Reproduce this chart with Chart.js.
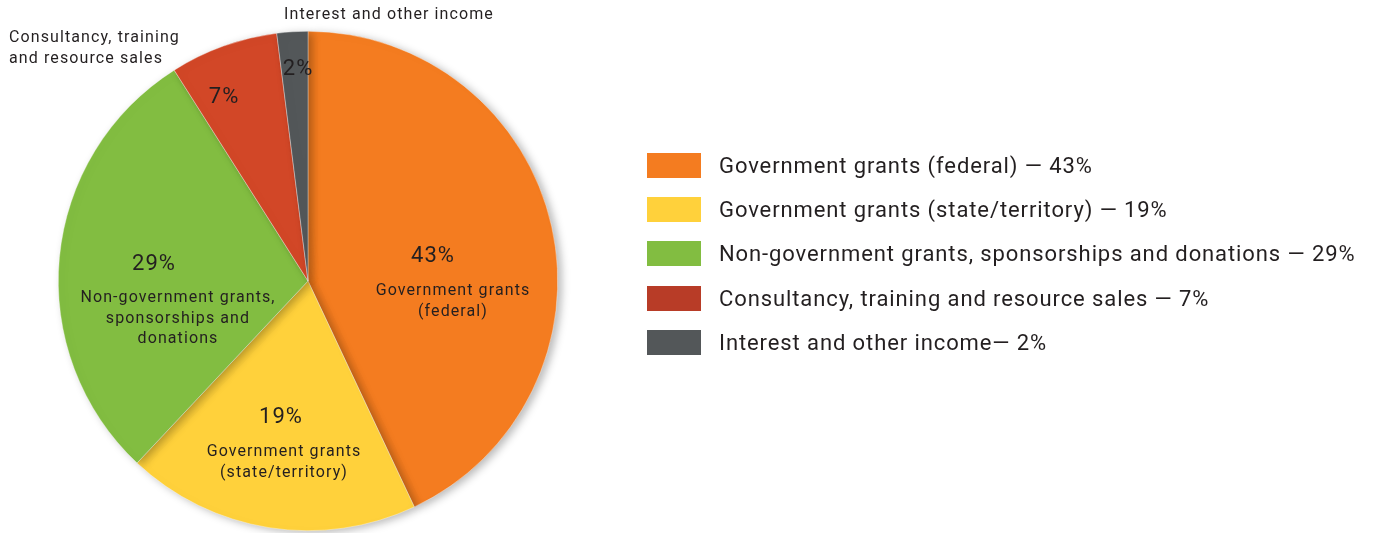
<!DOCTYPE html>
<html>
<head>
<meta charset="utf-8">
<script src="https://cdn.jsdelivr.net/npm/chart.js@4.4.0/dist/chart.umd.min.js"></script>
<style>
    html, body { margin: 0; padding: 0; background: #fff; }
    #wrap { position: relative; width: 1376px; height: 533px; }
    #legend { position: absolute; left: 647px; top: 153px; font-family: Roboto, sans-serif; font-size: 22px; letter-spacing: 0.9px; color: #231f20; }
    .row { height: 44.2px; display: flex; align-items: flex-start; }
    .sw { width: 54px; height: 25px; margin-right: 18px; }
    .tx { line-height: 25px; white-space: nowrap; }
</style>
</head>
<body>
<div id="wrap">
    <canvas id="chart" width="1376" height="533"></canvas>
    <div id="legend"></div>
</div>
<script>
var categories = [
    'Government grants (federal)',
    'Government grants (state/territory)',
    'Non-government grants, sponsorships and donations',
    'Consultancy, training and resource sales',
    'Interest and other income'
];
var values = [43, 19, 29, 7, 2];
var legendLabels = [
    'Government grants (federal) \u2014 43%',
    'Government grants (state/territory) \u2014 19%',
    'Non-government grants, sponsorships and donations \u2014 29%',
    'Consultancy, training and resource sales \u2014 7%',
    'Interest and other income\u2014 2%'
];
var sliceLabels = [
    ['Government grants', '(federal)'],
    ['Government grants', '(state/territory)'],
    ['Non-government grants,', 'sponsorships and', 'donations'],
    [],
    []
];
var outsideLabels = [
    [],
    [],
    [],
    ['Consultancy, training', 'and resource sales'],
    ['Interest and other income']
];

var color = ['#f47c20', '#ffd13b', '#82bd41', '#d24727', '#535759'];
var legendColor = ['#f47c20', '#ffd13b', '#82bd41', '#b83c27', '#535759'];

// label anchors relative to pie centre (percent text, then sub label)
var labelPos = [
    { pct: [125, -25], sub: [145, 10] },
    { pct: [-27, 136], sub: [-24, 171] },
    { pct: [-154, -17], sub: [-130, 17] },
    { pct: [-84, -184] },
    { pct: [-10, -212] }
];
var outsidePos = [null, null, null, [9, 38, 'left'], [284, 15, 'left']];

var shadowPlugin = {
    id: 'shadow',
    beforeDatasetDraw: function (chart) {
        var ctx = chart.ctx;
        ctx.save();
        ctx.shadowColor = 'rgba(0,0,0,0.28)';
        ctx.shadowBlur = 8;
        ctx.shadowOffsetX = 4;
        ctx.shadowOffsetY = 2;
    },
    afterDatasetDraw: function (chart) {
        chart.ctx.restore();
    }
};

var labelPlugin = {
    id: 'sliceLabels',
    afterDatasetsDraw: function (chart) {
        var ctx = chart.ctx;
        var arcs = chart.getDatasetMeta(0).data;
        ctx.save();
        ctx.fillStyle = '#231f20';
        ctx.textBaseline = 'middle';
        arcs.forEach(function (arc, i) {
            var cx = arc.x, cy = arc.y;
            var p = labelPos[i];
            ctx.textAlign = 'center';
            ctx.font = '22px Roboto';
            ctx.letterSpacing = '1px';
            ctx.fillText(values[i] + '%', cx + p.pct[0], cy + p.pct[1]);
            ctx.font = '16px Roboto';
            ctx.letterSpacing = '1.1px';
            if (p.sub) {
                sliceLabels[i].forEach(function (line, j) {
                    ctx.fillText(line, cx + p.sub[0], cy + p.sub[1] + j * 20.5);
                });
            }
            var o = outsidePos[i];
            if (o) {
                ctx.textAlign = o[2];
                outsideLabels[i].forEach(function (line, j) {
                    ctx.fillText(line, o[0], o[1] + j * 21);
                });
            }
        });
        ctx.restore();
    }
};

new Chart(document.getElementById('chart'), {
    type: 'pie',
    data: {
        labels: categories,
        datasets: [{
            data: values,
            backgroundColor: color,
            borderColor: 'rgba(255,255,255,0.6)',
            borderWidth: 0.6
        }]
    },
    options: {
        responsive: false,
        animation: false,
        layout: { padding: { left: 58, right: 818, top: 31, bottom: 2 } },
        plugins: {
            legend: { display: false },
            tooltip: { enabled: false }
        }
    },
    plugins: [shadowPlugin, labelPlugin]
});

var html = '';
legendLabels.forEach(function (t, i) {
    html += '<div class="row"><div class="sw" style="background:' + legendColor[i] + '"></div><div class="tx">' + t + '</div></div>';
});
document.getElementById('legend').innerHTML = html;
</script>
</body>
</html>
